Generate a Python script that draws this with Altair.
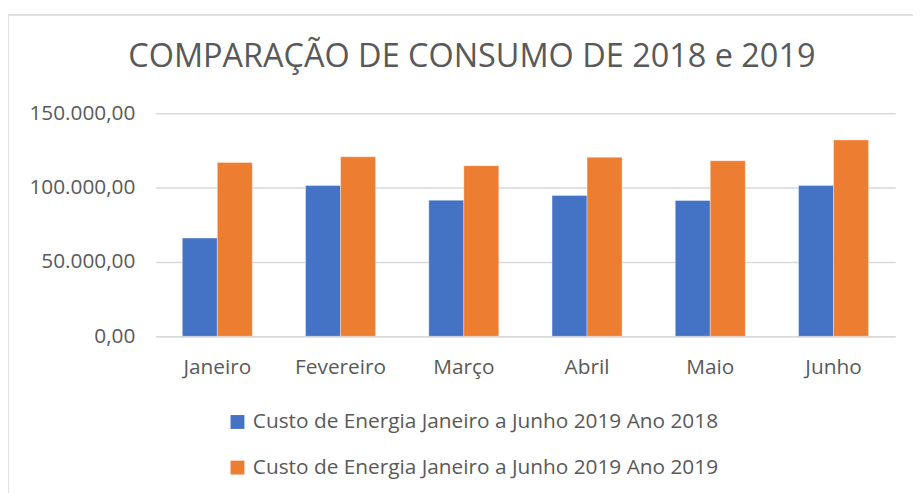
import altair as alt
import pandas as pd

months = ["Janeiro", "Fevereiro", "Março", "Abril", "Maio", "Junho"]
custo_2018 = [66000, 101300, 91500, 94700, 91300, 101300]
custo_2019 = [116900, 120700, 114700, 120400, 118000, 132000]
series = ["Custo de Energia Janeiro a Junho 2019 Ano 2018",
          "Custo de Energia Janeiro a Junho 2019 Ano 2019"]
colors = ["#4472C4", "#ED7D31"]

rows = []
for i, m in enumerate(months):
    rows.append({"mes": m, "serie": series[0], "valor": custo_2018[i]})
    rows.append({"mes": m, "serie": series[1], "valor": custo_2019[i]})
df = pd.DataFrame(rows)

TXT = "#595959"
GRID = "#d9d9d9"
FONT = "Open Sans"

bars = alt.Chart(df).mark_bar(stroke="#ffffff", strokeWidth=0.6, strokeOpacity=0.6).encode(
    x=alt.X("mes:N", sort=months, title=None,
            scale=alt.Scale(paddingInner=0.432, paddingOuter=0.216),
            axis=alt.Axis(labelAngle=0, labelFontSize=21, labelColor=TXT, labelFont=FONT,
                          labelPadding=21, ticks=False, domainColor=GRID, domainWidth=1.5,
                          grid=False)),
    xOffset=alt.XOffset("serie:N", sort=series, scale=alt.Scale(paddingInner=0, paddingOuter=0)),
    y=alt.Y("valor:Q", title=None,
            scale=alt.Scale(domain=[0, 150000], nice=False),
            axis=alt.Axis(values=[0, 50000, 100000, 150000], format=",.2f",
                          labelFontSize=21, labelColor=TXT, labelFont=FONT, labelPadding=21,
                          ticks=False, domain=False, gridColor=GRID, gridWidth=1.5)),
    color=alt.Color("serie:N", sort=series, title=None,
                    scale=alt.Scale(domain=series, range=colors),
                    legend=alt.Legend(orient="none", legendX=72, legendY=301, direction="vertical",
                                      symbolType="square", symbolSize=196, symbolStrokeWidth=0,
                                      labelFontSize=21, labelColor=TXT, labelFont=FONT,
                                      labelOffset=5, rowPadding=24, labelLimit=800)),
)

frame = alt.Chart(pd.DataFrame({"k": [0]})).mark_rect(
    fill=None, stroke=GRID, strokeWidth=1.5, clip=False
).encode(
    x=alt.value(-149), x2=alt.value(780), y=alt.value(-99), y2=alt.value(400)
)

chart = alt.layer(frame, bars).properties(
    width=746, height=225,
    padding={"left": 149, "top": 104, "right": 18, "bottom": 156},
    autosize=alt.AutoSizeParams(type="none"),
    title=alt.TitleParams("COMPARAÇÃO DE CONSUMO DE 2018 e 2019", fontSize=32.7,
                          font=FONT, fontWeight="normal", color=TXT, anchor="middle",
                          frame="group", baseline="alphabetic",
                          dx=-54, offset=-86),
).configure(
    locale={"number": {"decimal": ",", "thousands": ".", "grouping": [3],
                       "currency": ["R$", ""]}}
).configure_view(stroke=None)

chart.save("out.html", embed_options={"renderer": "svg", "actions": False})
